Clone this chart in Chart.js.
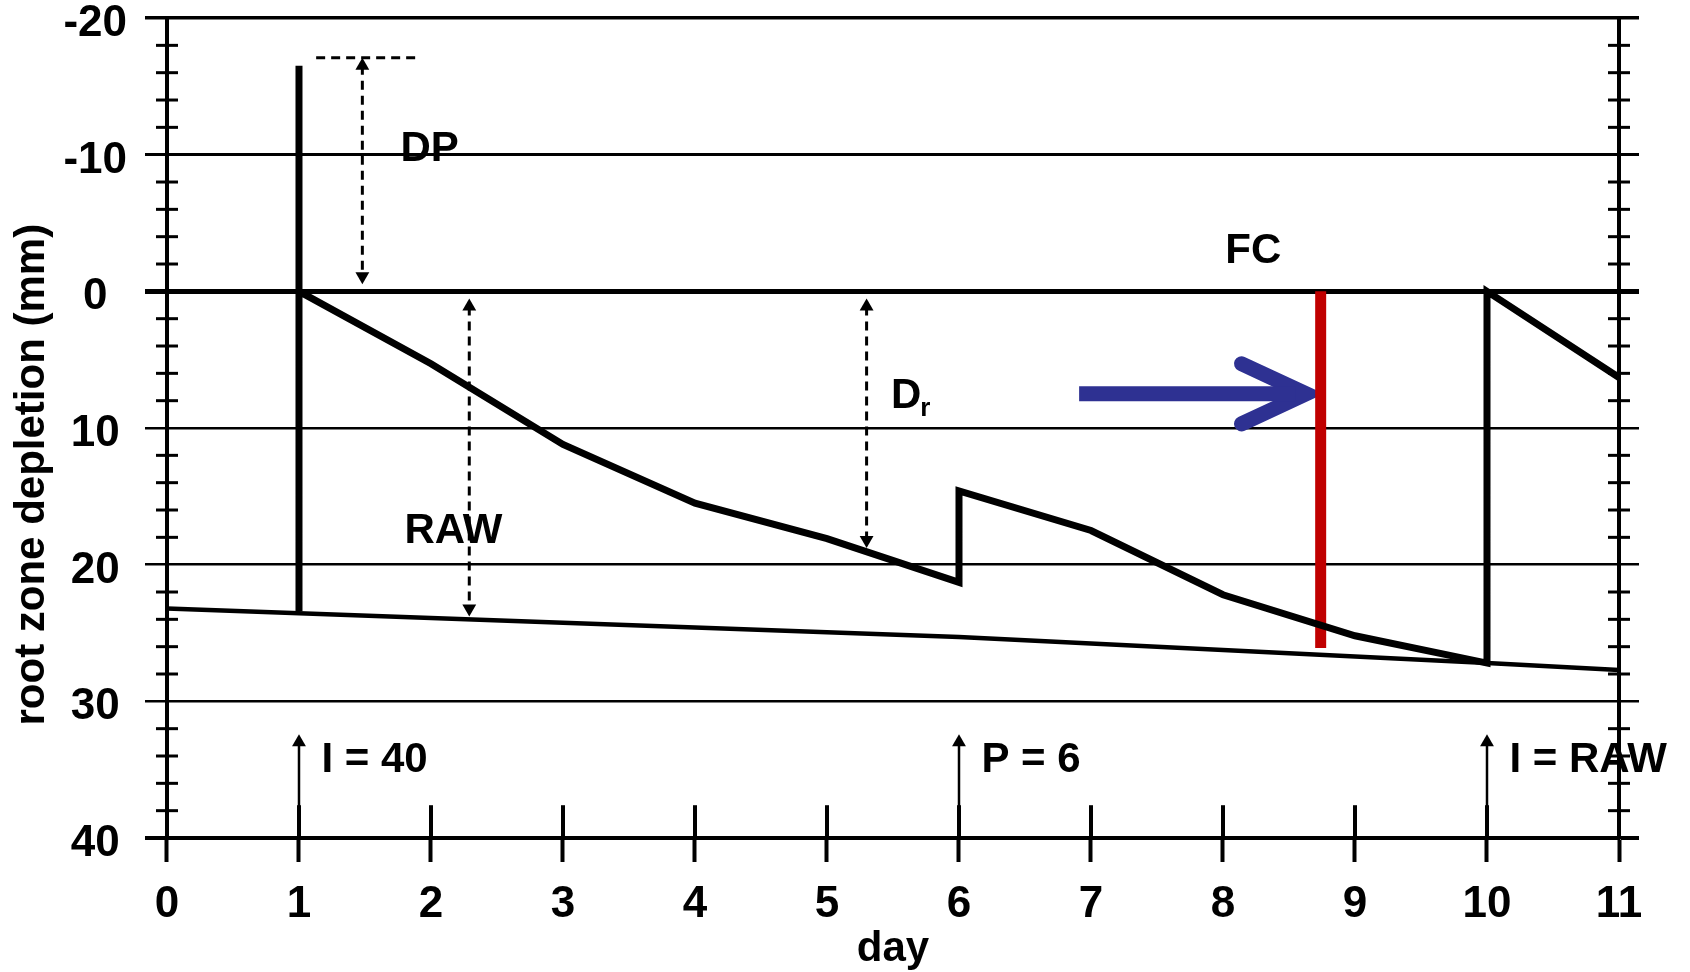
<!DOCTYPE html>
<html>
<head>
<meta charset="utf-8">
<script src="https://cdn.jsdelivr.net/npm/chart.js@4.4.1/dist/chart.umd.min.js"></script>
<style>
  html, body { margin: 0; padding: 0; background: #fff; }
  canvas { display: block; }
</style>
</head>
<body>
<canvas id="chart" width="1690" height="972"></canvas>
<script>
// root zone depletion, one point per day, vertical jumps on irrigation / rain days
const curveDays = [1, 1, 1, 2, 3, 4, 5, 6, 6, 7, 8, 9, 10, 10, 11];
const curveDepl = [23.4, -16.5, 0, 5.3, 11.2, 15.5, 18.1, 21.3, 14.6, 17.5, 22.2, 25.2, 27.2, 0, 6.3];

// lower limit line (RAW)
const rawDays = [0, 6, 10, 11];
const rawDepl = [23.2, 25.3, 27.2, 27.7];

// events along the bottom
const eventDays = [1, 6, 10];
const eventText = ['I = 40', 'P = 6', 'I = RAW'];
const eventTop = 33.0;

// dashed double arrows: day, top, bottom
const dpArrow = [1.48, -16.5, -1.1];
const dpCap = [1.13, 1.9, -17.1];
const rawArrow = [2.29, 1.1, 23.2];
const drArrow = [5.3, 1.1, 18.2];

// red marker and blue pointer
const redDay = 8.74;
const redDepl = [0, 26.1];
const blueShaft = [[6.91, 7.5], [8.55, 7.5]];
const blueHead = [[8.14, 5.3], [8.63, 7.5], [8.14, 9.7]];

// free labels
const noteText = ['DP', 'FC', 'RAW'];
const noteDay = [1.99, 8.23, 2.17];
const noteDepl = [-10.4, -2.9, 17.6];

const yTicks = [-20, -10, 0, 10, 20, 30, 40];
const xTicks = [0, 1, 2, 3, 4, 5, 6, 7, 8, 9, 10, 11];

const FONT = '"Liberation Sans", Arial, sans-serif';

function pts(xs, ys) {
  return xs.map((d, i) => ({ x: d, y: ys[i] }));
}

function dashedArrow(a) {
  return {
    data: [{ x: a[0], y: a[1] }, { x: a[0], y: a[2] }],
    borderColor: '#000',
    borderWidth: 3,
    borderDash: [9, 6],
    pointStyle: 'triangle',
    pointRadius: [8, 8],
    pointRotation: [0, 180],
    pointBackgroundColor: '#000',
    pointBorderWidth: 0
  };
}

const datasets = [
  {
    data: pts(rawDays, rawDepl),
    borderColor: '#000',
    borderWidth: 4.5
  },
  {
    data: pts(curveDays, curveDepl),
    borderColor: '#000',
    borderWidth: 7,
    borderJoinStyle: 'miter'
  },
  dashedArrow(dpArrow),
  {
    data: [{ x: dpCap[0], y: dpCap[2] }, { x: dpCap[1], y: dpCap[2] }],
    borderColor: '#000',
    borderWidth: 3,
    borderDash: [9, 6]
  },
  dashedArrow(rawArrow),
  dashedArrow(drArrow),
  {
    data: [{ x: redDay, y: redDepl[0] }, { x: redDay, y: redDepl[1] }],
    borderColor: '#C00000',
    borderWidth: 11
  },
  {
    data: blueShaft.map(p => ({ x: p[0], y: p[1] })),
    borderColor: '#2E3192',
    borderWidth: 15
  },
  {
    data: blueHead.map(p => ({ x: p[0], y: p[1] })),
    borderColor: '#2E3192',
    borderWidth: 15,
    borderCapStyle: 'round',
    borderJoinStyle: 'miter'
  }
];

eventDays.forEach(d => {
  datasets.push({
    data: [{ x: d, y: 40 }, { x: d, y: eventTop }],
    borderColor: '#000',
    borderWidth: 2.5,
    pointStyle: 'triangle',
    pointRadius: [0, 8],
    pointRotation: [0, 0],
    pointBackgroundColor: '#000',
    pointBorderWidth: 0
  });
});

datasets.forEach(ds => {
  if (ds.pointRadius === undefined) ds.pointRadius = 0;
  ds.tension = 0;
  ds.fill = false;
  ds.clip = false;
});

const overlay = {
  id: 'overlay',
  afterDatasetsDraw(chart) {
    const { ctx, scales: { x, y } } = chart;
    ctx.save();
    ctx.strokeStyle = '#000';
    ctx.fillStyle = '#000';

    // minor ticks crossing the left and right axis
    ctx.lineWidth = 3;
    for (let v = -20; v <= 40; v += 2) {
      if (v % 10 === 0) continue;
      const py = y.getPixelForValue(v);
      [0, 11].forEach(d => {
        const px = x.getPixelForValue(d);
        ctx.beginPath();
        ctx.moveTo(px - 11, py);
        ctx.lineTo(px + 11, py);
        ctx.stroke();
      });
    }

    // day ticks reach up above the baseline too
    ctx.lineWidth = 4;
    for (let d = 1; d <= 11; d++) {
      const px = x.getPixelForValue(d);
      ctx.beginPath();
      ctx.moveTo(px, y.getPixelForValue(40));
      ctx.lineTo(px, y.getPixelForValue(37.6));
      ctx.stroke();
    }

    ctx.font = 'bold 42px ' + FONT;
    ctx.textBaseline = 'middle';
    ctx.textAlign = 'center';
    noteText.forEach((t, i) => {
      ctx.fillText(t, x.getPixelForValue(noteDay[i]), y.getPixelForValue(noteDepl[i]));
    });

    // D with subscript r
    const dx = x.getPixelForValue(5.6);
    const dy = y.getPixelForValue(7.7);
    ctx.fillText('D', dx, dy);
    ctx.font = 'bold 26px ' + FONT;
    ctx.textAlign = 'left';
    ctx.fillText('r', dx + 14, dy + 12);

    ctx.font = 'bold 42px ' + FONT;
    ctx.textAlign = 'left';
    eventDays.forEach((d, i) => {
      ctx.fillText(eventText[i], x.getPixelForValue(d + 0.17), y.getPixelForValue(34.3));
    });
    ctx.restore();
  }
};

const gridWidth = v => ({ '-20': 3.5, '-10': 3, '0': 5, '40': 4 }[String(v)] || 2.5);

new Chart(document.getElementById('chart'), {
  type: 'line',
  data: { datasets },
  plugins: [overlay],
  options: {
    responsive: false,
    animation: false,
    events: [],
    layout: { padding: { left: 8, right: 51, top: 0, bottom: 2 } },
    plugins: {
      legend: { display: false },
      tooltip: { enabled: false }
    },
    scales: {
      x: {
        type: 'linear',
        min: 0,
        max: 11,
        afterBuildTicks: s => { s.ticks = xTicks.map(v => ({ value: v })); },
        grid: {
          drawOnChartArea: false,
          drawTicks: true,
          tickLength: 24,
          tickWidth: 4,
          tickColor: '#000',
          color: '#000'
        },
        border: { display: true, color: '#000', width: 4 },
        ticks: {
          padding: 21,
          color: '#000',
          maxRotation: 0,
          font: { family: FONT, size: 44, weight: 'bold', lineHeight: 1 }
        },
        title: {
          display: true,
          text: 'day',
          color: '#000',
          padding: { top: -20, bottom: 0 },
          font: { family: FONT, size: 42, weight: 'bold', lineHeight: 1 }
        }
      },
      y: {
        type: 'linear',
        reverse: true,
        min: -20,
        max: 40,
        afterBuildTicks: s => { s.ticks = yTicks.map(v => ({ value: v })); },
        grid: {
          color: '#000',
          lineWidth: ctx => gridWidth(ctx.tick && ctx.tick.value),
          tickWidth: ctx => gridWidth(ctx.tick && ctx.tick.value),
          tickColor: '#000',
          tickLength: 22
        },
        border: { display: true, color: '#000', width: 4 },
        ticks: {
          padding: 18,
          labelOffset: 6,
          crossAlign: 'center',
          color: '#000',
          font: { family: FONT, size: 44, weight: 'bold', lineHeight: 0.001 }
        },
        title: {
          display: true,
          text: 'root zone depletion (mm)        ',
          color: '#000',
          padding: { top: -1, bottom: -12 },
          font: { family: FONT, size: 42, weight: 'bold', lineHeight: 1.2 }
        }
      },
      y2: {
        type: 'linear',
        position: 'right',
        reverse: true,
        min: -20,
        max: 40,
        afterBuildTicks: s => { s.ticks = yTicks.map(v => ({ value: v })); },
        grid: {
          drawOnChartArea: false,
          color: '#000',
          tickColor: '#000',
          tickLength: 20,
          lineWidth: ctx => gridWidth(ctx.tick && ctx.tick.value),
          tickWidth: ctx => gridWidth(ctx.tick && ctx.tick.value)
        },
        border: { display: true, color: '#000', width: 4 },
        ticks: { display: false }
      }
    }
  }
});
</script>
</body>
</html>
